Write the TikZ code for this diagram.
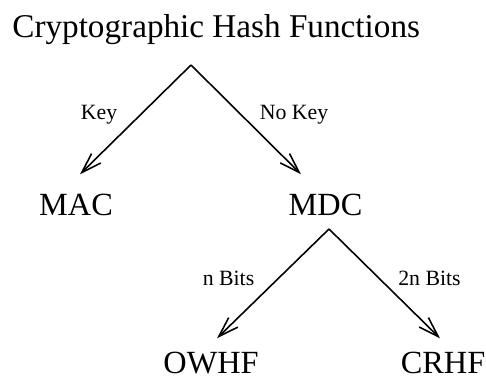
\documentclass[tikz,border=0pt]{standalone}
\usepackage{fontspec}
\setmainfont{Liberation Serif}
\usetikzlibrary{arrows.meta}

\begin{document}
\begin{tikzpicture}[
        x=0.02cm, y=-0.02cm,
        >={Straight Barb[length=11.5pt, width=7.5pt, line width=0.9pt]},
        every node/.style={inner sep=0pt, anchor=base},
        kind/.style={font=\fontsize{18.4}{22}\selectfont},
        branch/.style={font=\fontsize{12.4}{15}\selectfont},
        edge/.style={->, line width=0.9pt}
    ]
      \useasboundingbox (0,0) rectangle (486,380);

      % Title
      \node[kind, font=\fontsize{18.9}{22}\selectfont, anchor=base west] (hash) at (12,37) {Cryptographic Hash Functions};

      % First split
      \node[kind] (mac) at (76,215) {MAC};
      \node[kind] (mdc) at (325.5,215) {MDC};
      \coordinate (hashfork) at (191,65);
      \draw[edge] (hashfork) -- ([shift={(4,-19)}]mac.north);
      \draw[edge] (hashfork) -- ([shift={(-24.5,-19)}]mdc.north);
      \node[branch] (keylbl) at (99,119.5) {Key};
      \node[branch] (nokeylbl) at (294,119.5) {No Key};

      % Second split below MDC
      \node[kind] (owhf) at (211,373) {OWHF};
      \node[kind] (crhf) at (443,373) {CRHF};
      \coordinate (mdcfork) at (329,229);
      \draw[edge] (mdcfork) -- ([shift={(6,-13)}]owhf.north);
      \draw[edge] (mdcfork) -- ([shift={(-3,-13)}]crhf.north);
      \node[branch] (nbitslbl) at (228.5,285) {n Bits};
      \node[branch] (twonbitslbl) at (429.5,285) {2n Bits};
    \end{tikzpicture}
\end{document}
